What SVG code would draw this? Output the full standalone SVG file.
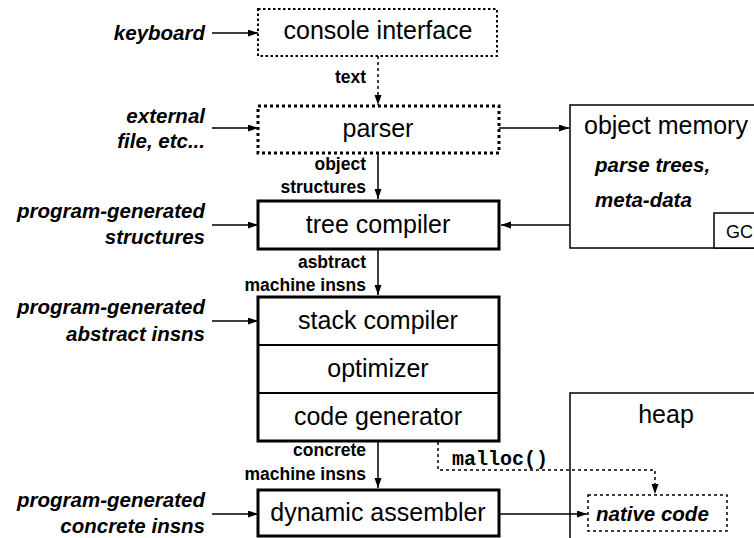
<svg xmlns="http://www.w3.org/2000/svg" width="754" height="538" viewBox="0 0 754 538">
<defs>
<marker id="ah" markerUnits="userSpaceOnUse" markerWidth="11" markerHeight="8" refX="10" refY="3.5" orient="auto">
<path d="M0,0 L10,3.5 L0,7 z" fill="#000"/>
</marker>
<style>
.box{font-family:"Liberation Sans",Arial,sans-serif;font-size:25px;fill:#000;text-anchor:middle}
.lbl{font-family:"Liberation Sans",Arial,sans-serif;font-size:20.5px;font-weight:bold;font-style:italic;fill:#000;text-anchor:end}
.mid{font-family:"Liberation Sans",Arial,sans-serif;font-size:17.5px;font-weight:bold;fill:#000;text-anchor:end}
.bi{font-family:"Liberation Sans",Arial,sans-serif;font-size:20.5px;font-weight:bold;font-style:italic;fill:#000}
.thick{fill:#fff;stroke:#000;stroke-width:3}
.thin{fill:#fff;stroke:#000;stroke-width:1.5}
.ln{fill:none;stroke:#000;stroke-width:1.5}
.dot{fill:none;stroke:#000;stroke-width:1.5;stroke-dasharray:3 3}
</style>
</defs>
<rect width="754" height="538" fill="#fff"/>

<g id="inputs">
<text class="lbl" x="205" y="40">keyboard</text>
<text class="lbl" x="205" y="123">external</text>
<text class="lbl" x="205" y="148">file, etc...</text>
<text class="lbl" x="205" y="218">program-generated</text>
<text class="lbl" x="205" y="244">structures</text>
<text class="lbl" x="205" y="314">program-generated</text>
<text class="lbl" x="205" y="341">abstract insns</text>
<text class="lbl" x="205" y="507">program-generated</text>
<text class="lbl" x="205" y="533">concrete insns</text>
</g>

<g id="console">
<rect x="258" y="9" width="239" height="47" fill="#fff" stroke="#000" stroke-width="2" stroke-dasharray="2.5 2.5"/>
<text class="box" x="378" y="39">console interface</text>
</g>

<g id="parser">
<rect x="258" y="106" width="241" height="47" fill="#fff" stroke="#000" stroke-width="3" stroke-dasharray="3 3"/>
<text class="box" x="378" y="137">parser</text>
</g>

<g id="tree-compiler">
<rect class="thick" x="258" y="201" width="241" height="48"/>
<text class="box" x="378" y="233">tree compiler</text>
</g>

<g id="stack-compiler">
<rect class="thick" x="258" y="297" width="241" height="144"/>
<line x1="258" y1="345" x2="499" y2="345" stroke="#000" stroke-width="2"/>
<line x1="258" y1="393" x2="499" y2="393" stroke="#000" stroke-width="2"/>
<text class="box" x="378" y="329">stack compiler</text>
<text class="box" x="378" y="377">optimizer</text>
<text class="box" x="378" y="425">code generator</text>
</g>

<g id="dynamic-assembler">
<rect class="thick" x="258" y="490" width="241" height="46"/>
<text class="box" x="378" y="521">dynamic assembler</text>
</g>

<g id="object-memory">
<rect class="thin" x="570" y="105" width="200" height="143"/>
<text x="584" y="134" style="font-family:'Liberation Sans',Arial,sans-serif;font-size:25px">object memory</text>
<text class="bi" x="595" y="172">parse trees,</text>
<text class="bi" x="595" y="207">meta-data</text>
<rect class="thin" x="714" y="213" width="60" height="35"/>
<text x="726" y="238" style="font-family:'Liberation Sans',Arial,sans-serif;font-size:18px">GC</text>
</g>

<g id="heap">
<rect class="thin" x="570" y="393" width="200" height="160"/>
<text class="box" x="666" y="423">heap</text>
<rect x="588" y="495" width="139" height="36" fill="#fff" stroke="#000" stroke-width="1.5" stroke-dasharray="3 3"/>
<text class="bi" x="596" y="521">native code</text>
</g>

<g id="connectors">
<line class="ln" x1="212" y1="33" x2="258" y2="33" marker-end="url(#ah)"/>
<line class="ln" x1="212" y1="128" x2="258" y2="128" marker-end="url(#ah)"/>
<line class="ln" x1="212" y1="225" x2="258" y2="225" marker-end="url(#ah)"/>
<line class="ln" x1="212" y1="321" x2="258" y2="321" marker-end="url(#ah)"/>
<line class="ln" x1="212" y1="514" x2="258" y2="514" marker-end="url(#ah)"/>
<line class="dot" x1="378" y1="56" x2="378" y2="105" marker-end="url(#ah)"/>
<line class="ln" x1="378" y1="153" x2="378" y2="199" marker-end="url(#ah)"/>
<line class="ln" x1="378" y1="249" x2="378" y2="295" marker-end="url(#ah)"/>
<line class="ln" x1="378" y1="441" x2="378" y2="488" marker-end="url(#ah)"/>
<line class="ln" x1="499" y1="128" x2="569" y2="128" marker-end="url(#ah)"/>
<line class="ln" x1="570" y1="225" x2="501" y2="225" marker-end="url(#ah)"/>
<line class="ln" x1="499" y1="514" x2="587" y2="514" marker-end="url(#ah)"/>
<path class="dot" d="M438,442 V470 H655 V494" marker-end="url(#ah)"/>
<text class="mid" x="366" y="83">text</text>
<text class="mid" x="366" y="170">object</text>
<text class="mid" x="366" y="193">structures</text>
<text class="mid" x="366" y="268">asbtract</text>
<text class="mid" x="366" y="291">machine insns</text>
<text class="mid" x="366" y="456">concrete</text>
<text class="mid" x="366" y="480">machine insns</text>
<text x="452" y="465" style="font-family:'Liberation Mono','Courier New',monospace;font-size:20px;font-weight:bold">malloc()</text>
</g>
</svg>
